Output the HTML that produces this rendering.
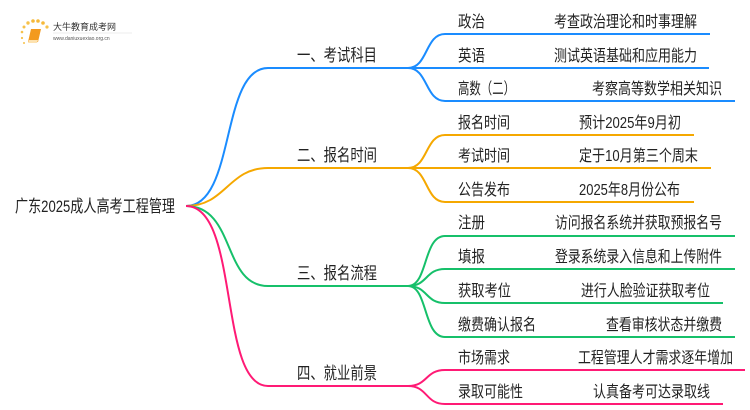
<!DOCTYPE html>
<html><head><meta charset="utf-8"><style>
html,body{margin:0;padding:0;background:#fff;}
svg{display:block;}
text{font-family:"Liberation Sans","Noto Sans CJK SC",sans-serif;fill:#222;}
</style></head><body>
<svg width="750" height="410" viewBox="0 0 750 410" xmlns="http://www.w3.org/2000/svg">
<g>
<circle cx="24" cy="27" r="1.5" fill="#f6c14a"/><circle cx="28" cy="23" r="1.7" fill="#f6c14a"/>
<circle cx="33" cy="21" r="1.8" fill="#f6b93a"/><circle cx="38" cy="21" r="1.8" fill="#f6b93a"/>
<circle cx="43" cy="23" r="1.8" fill="#f6b93a"/><circle cx="47" cy="27" r="1.6" fill="#f6c14a"/>
<circle cx="22" cy="32" r="1.3" fill="#f6c14a"/><circle cx="22" cy="38" r="1.1" fill="#f6c14a"/><circle cx="24" cy="43" r="1" fill="#f6c14a"/>
<path d="M31 29 L41 29 L38 42 L28 42 Z" fill="#f39a1e"/>
<path d="M29 40 L38 40 L37 43 L28 43 Z" fill="#fde2b0"/>
<text x="53" y="30" font-size="9" style="fill:#333">大牛教育成考网</text>
<line x1="53" y1="33" x2="132" y2="33" stroke="#ddd" stroke-width="0.6"/>
<text x="53" y="40" font-size="5" style="fill:#555">www.daniuxuexiao.org.cn</text>
</g>
<text x="15" y="212" font-size="17" textLength="160" lengthAdjust="spacingAndGlyphs">广东2025成人高考工程管理</text>
<g fill="none" stroke-width="2">
<path d="M186 206 C236 206 220 68 268 68 L408 68" stroke="#1a8cff"/>
<path d="M186 206 C226 206 228 168 268 168 L408 168" stroke="#f5a800"/>
<path d="M186 206 C236 206 222 286 268 286 L408 286" stroke="#16c06a"/>
<path d="M186 206 C240 206 218 386 268 386 L408 386" stroke="#ff1a75"/>
<path d="M408 68 C428 68 425 34 445 34 L710 34" stroke="#1a8cff"/>
<path d="M408 68 L709 68" stroke="#1a8cff"/>
<path d="M408 68 C428 68 425 101 445 101 L735 101" stroke="#1a8cff"/>
<path d="M408 168 C428 168 425 135 445 135 L694 135" stroke="#f5a800"/>
<path d="M408 168 L711 168" stroke="#f5a800"/>
<path d="M408 168 C428 168 425 202 445 202 L694 202" stroke="#f5a800"/>
<path d="M408 286 C428 286 423 236 445 236 L735 236" stroke="#16c06a"/>
<path d="M408 286 C428 286 425 269 445 269 L735 269" stroke="#16c06a"/>
<path d="M408 286 C428 286 425 303 445 303 L723 303" stroke="#16c06a"/>
<path d="M408 286 C428 286 423 337 445 337 L735 337" stroke="#16c06a"/>
<path d="M408 386 C428 386 425 370 445 370 L745 370" stroke="#ff1a75"/>
<path d="M408 386 C428 386 425 404 445 404 L723 404" stroke="#ff1a75"/>
</g>
<g font-size="17">
<text x="297" y="61" textLength="80" lengthAdjust="spacingAndGlyphs">一、考试科目</text>
<text x="297" y="161" textLength="80" lengthAdjust="spacingAndGlyphs">二、报名时间</text>
<text x="297" y="279" textLength="80" lengthAdjust="spacingAndGlyphs">三、报名流程</text>
<text x="297" y="379" textLength="80" lengthAdjust="spacingAndGlyphs">四、就业前景</text>
</g>
<g font-size="16">
<text x="458" y="27" textLength="27" lengthAdjust="spacingAndGlyphs">政治</text><text x="554" y="27" textLength="143" lengthAdjust="spacingAndGlyphs">考查政治理论和时事理解</text>
<text x="458" y="61" textLength="27" lengthAdjust="spacingAndGlyphs">英语</text><text x="554" y="61" textLength="143" lengthAdjust="spacingAndGlyphs">测试英语基础和应用能力</text>
<text x="458" y="94" textLength="57" lengthAdjust="spacingAndGlyphs">高数（二）</text><text x="592" y="94" textLength="130" lengthAdjust="spacingAndGlyphs">考察高等数学相关知识</text>
<text x="458" y="128" textLength="52" lengthAdjust="spacingAndGlyphs">报名时间</text><text x="579" y="128" textLength="102" lengthAdjust="spacingAndGlyphs">预计2025年9月初</text>
<text x="458" y="161" textLength="52" lengthAdjust="spacingAndGlyphs">考试时间</text><text x="579" y="161" textLength="119" lengthAdjust="spacingAndGlyphs">定于10月第三个周末</text>
<text x="458" y="195" textLength="52" lengthAdjust="spacingAndGlyphs">公告发布</text><text x="579" y="195" textLength="101" lengthAdjust="spacingAndGlyphs">2025年8月份公布</text>
<text x="458" y="228" textLength="27" lengthAdjust="spacingAndGlyphs">注册</text><text x="555" y="228" textLength="167" lengthAdjust="spacingAndGlyphs">访问报名系统并获取预报名号</text>
<text x="458" y="262" textLength="27" lengthAdjust="spacingAndGlyphs">填报</text><text x="555" y="262" textLength="167" lengthAdjust="spacingAndGlyphs">登录系统录入信息和上传附件</text>
<text x="458" y="296" textLength="53" lengthAdjust="spacingAndGlyphs">获取考位</text><text x="581" y="296" textLength="129" lengthAdjust="spacingAndGlyphs">进行人脸验证获取考位</text>
<text x="458" y="330" textLength="78" lengthAdjust="spacingAndGlyphs">缴费确认报名</text><text x="606" y="330" textLength="116" lengthAdjust="spacingAndGlyphs">查看审核状态并缴费</text>
<text x="458" y="363" textLength="52" lengthAdjust="spacingAndGlyphs">市场需求</text><text x="578" y="363" textLength="155" lengthAdjust="spacingAndGlyphs">工程管理人才需求逐年增加</text>
<text x="458" y="397" textLength="65" lengthAdjust="spacingAndGlyphs">录取可能性</text><text x="593" y="397" textLength="117" lengthAdjust="spacingAndGlyphs">认真备考可达录取线</text>
</g>
</svg>
</body></html>
